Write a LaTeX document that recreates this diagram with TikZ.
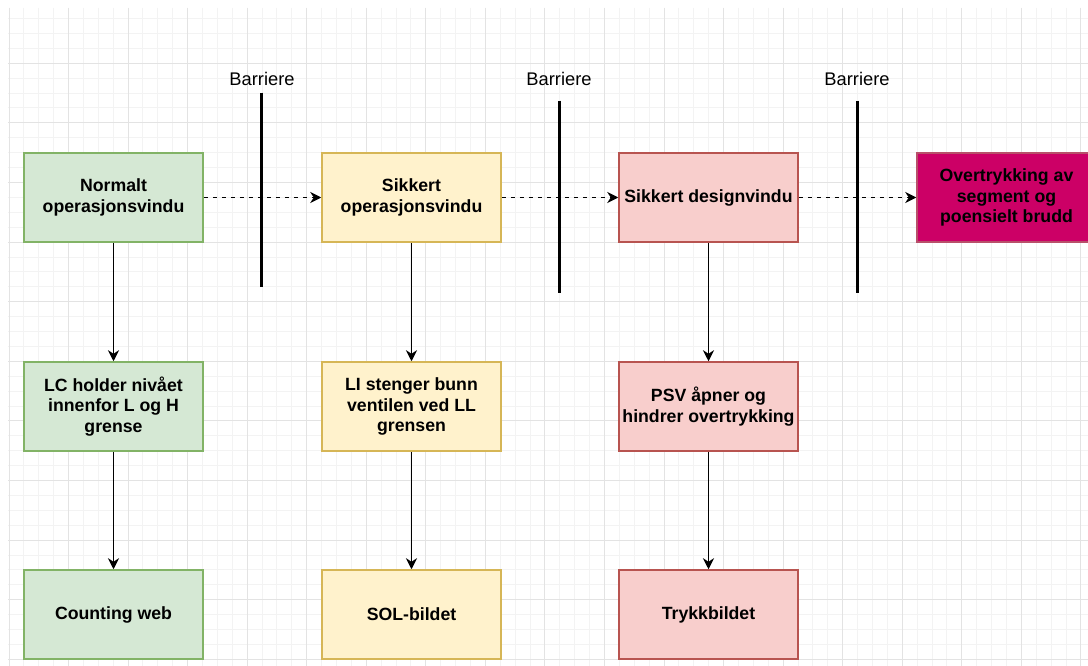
\documentclass[tikz,border=0pt]{standalone}
\usepackage{fontspec}
\setmainfont{Liberation Sans}
\usetikzlibrary{arrows.meta}

\definecolor{gridminor}{HTML}{F3F3F3}
\definecolor{gridmajor}{HTML}{E3E3E3}
\definecolor{greenfill}{HTML}{D5E8D4}
\definecolor{greenline}{HTML}{82B366}
\definecolor{yellowfill}{HTML}{FFF2CC}
\definecolor{yellowline}{HTML}{D6B656}
\definecolor{redfill}{HTML}{F8CECC}
\definecolor{redline}{HTML}{B85450}
\definecolor{magfill}{HTML}{CC0066}
\definecolor{magline}{HTML}{B8506A}

\begin{document}
\begin{tikzpicture}[x=1pt,y=-1pt,
  box/.style={draw, line width=1.5pt, minimum width=179pt, minimum height=89pt,
    inner sep=0pt, align=center, text=black,
    font=\fontsize{17.7}{20.8}\selectfont\bfseries},
  greenbox/.style={box, fill=greenfill, draw=greenline},
  yellowbox/.style={box, fill=yellowfill, draw=yellowline},
  redbox/.style={box, fill=redfill, draw=redline},
  magbox/.style={box, fill=magfill, draw=magline},
  tip/.style={-{Stealth[length=11pt,width=11pt,inset=3.5pt]}},
  flow/.style={tip, line width=1.8pt, black},
  dashflow/.style={tip, line width=1.6pt, black, dash pattern=on 4.5pt off 4.5pt},
  barrier/.style={line width=3pt, black},
  barlabel/.style={font=\fontsize{18.3}{22}\selectfont, inner sep=0pt, text=black}
]
\useasboundingbox (0,0) rectangle (1088,666);
\fill[white] (0,0) rectangle (1088,666);
\clip (0,0) rectangle (1088,666);

% background grid
\begin{scope}[line width=1pt]
  \foreach \i in {0,...,72} {
    \draw[gridminor] ({9+14.8875*\i},8) -- ({9+14.8875*\i},666);
  }
  \foreach \j in {-3,...,40} {
    \draw[gridminor] (8,{63.3+14.9*\j}) -- (1088,{63.3+14.9*\j});
  }
  \foreach \i in {0,...,18} {
    \draw[gridmajor] ({9+59.55*\i},8) -- ({9+59.55*\i},666);
  }
  \foreach \j in {0,...,10} {
    \draw[gridmajor] (8,{63.3+59.6*\j}) -- (1088,{63.3+59.6*\j});
  }
\end{scope}

% barriers
\coordinate (b1t) at (261.7,92.7);  \coordinate (b1b) at (261.7,286.7);
\coordinate (b2t) at (559.3,100.7); \coordinate (b2b) at (559.3,293.3);
\coordinate (b3t) at (857,100.7);   \coordinate (b3b) at (857,293.3);
\draw[barrier] (b1t) -- (b1b);
\draw[barrier] (b2t) -- (b2b);
\draw[barrier] (b3t) -- (b3b);
\node[barlabel] (l1) at (262,79) {Barriere};
\node[barlabel] (l2) at (559,79) {Barriere};
\node[barlabel] (l3) at (857,79) {Barriere};

% top row: operating windows
\node[greenbox]  (normal) at (113.5,197.5) {Normalt\\operasjonsvindu};
\node[yellowbox] (safeop) at (411.5,197.5) {Sikkert\\operasjonsvindu};
\node[redbox]    (design) at (708.5,197.5) {Sikkert designvindu};
\node[magbox]    (over)   at (1006.5,197.5) {Overtrykking av\\segment og\\poensielt brudd};

% middle row: safeguards
\node[greenbox]  (lc)  at (113.5,406.5) {LC holder nivået\\innenfor L og H\\grense};
\node[yellowbox] (li)  at (411.5,406.5) {LI stenger bunn\\ventilen ved LL\\grensen};
\node[redbox]    (psv) at (708.5,406.5) {PSV åpner og\\hindrer overtrykking};

% bottom row: displays
\node[greenbox]  (web)  at (113.5,614.5) {Counting web};
\node[yellowbox] (sol)  at (411.5,614.5) {SOL-bildet};
\node[redbox]    (tryk) at (708.5,614.5) {Trykkbildet};

% connectors
\draw[dashflow] (normal.east) -- (safeop.west);
\draw[dashflow] (safeop.east) -- (design.west);
\draw[dashflow] (design.east) -- (over.west);

\draw[flow] (normal.south) -- (lc.north);
\draw[flow] (lc.south) -- (web.north);
\draw[flow] (safeop.south) -- (li.north);
\draw[flow] (li.south) -- (sol.north);
\draw[flow] (design.south) -- (psv.north);
\draw[flow] (psv.south) -- (tryk.north);
\end{tikzpicture}
\end{document}
